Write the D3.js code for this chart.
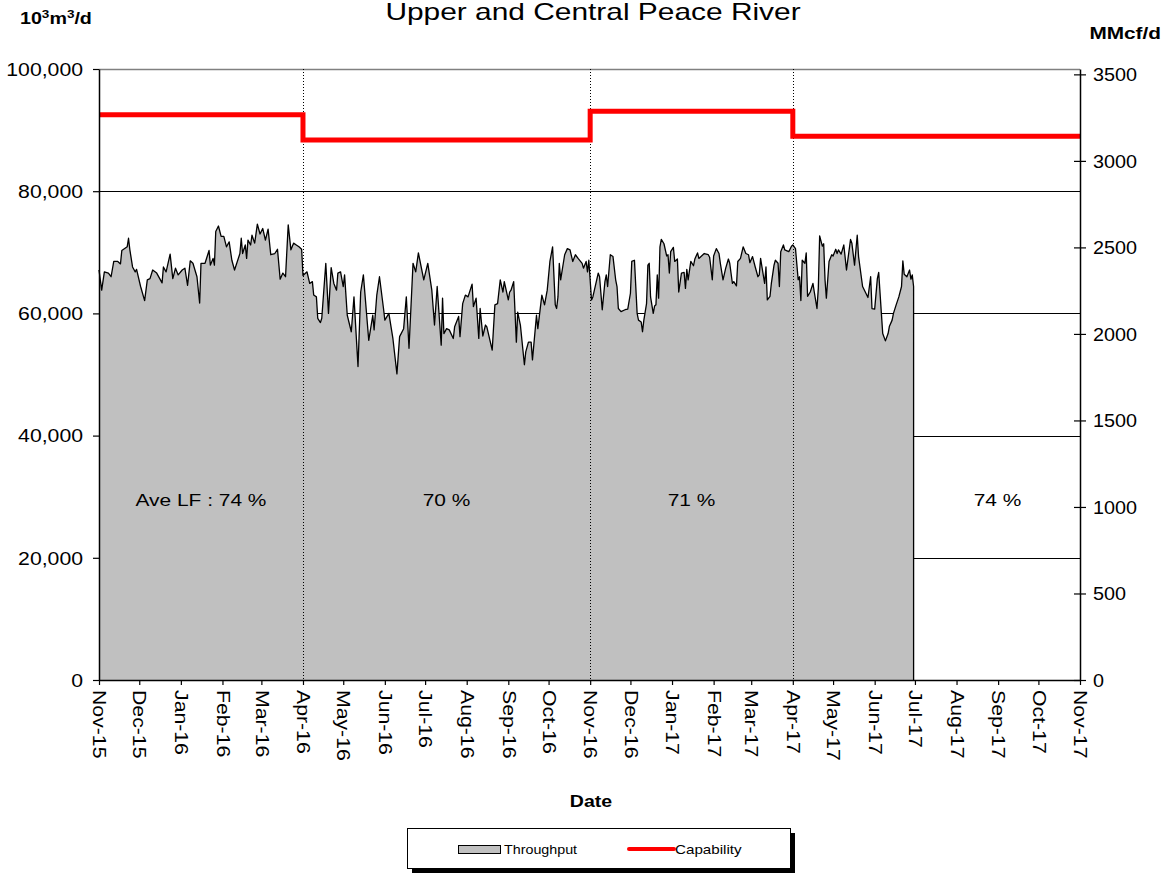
<!DOCTYPE html>
<html>
<head>
<meta charset="utf-8">
<script src="https://cdn.jsdelivr.net/npm/d3@7/dist/d3.min.js"></script>
<style>
  html, body { margin: 0; padding: 0; background: #fff; }
  svg { display: block; font-family: "Liberation Sans", Arial, sans-serif; }
</style>
</head>
<body>
<svg id="chart" width="1168" height="873"></svg>
<script>
// ---------------- DATA ----------------
const title = "Upper and Central Peace River";
const startDate = "2015-11-01";
const endDate = "2017-11-01";
// Daily throughput (10^3 m3/d) : [days since 2015-11-01, value]
const throughput = [
  [0,67100],[2,63800],[4,66800],[7,66600],[9,66000],[11,68500],[14,68500],[16,68100],[17,70300],
  [21,70900],[22,72300],[23,70400],[25,67600],[27,66800],[28,67200],[31,64400],[34,62100],[36,65500],
  [38,65700],[40,67100],[43,66600],[47,65000],[48,67600],[50,66800],[53,69700],[55,65700],[57,67400],
  [59,66300],[62,67100],[64,67400],[66,64600],[68,68600],[70,68200],[73,66000],[75,61700],[76,68200],
  [79,68200],[82,70300],[83,67900],[85,69000],[86,67900],[87,73400],[89,74300],[91,72600],[93,72600],
  [95,70900],[97,71700],[99,68700],[101,67100],[105,69800],[106,72300],[107,69800],[109,71200],[110,69000],
  [111,72000],[113,71200],[114,72800],[116,71500],[118,74600],[120,73000],[122,73900],[124,72000],[126,73800],
  [128,69600],[131,69800],[133,70500],[135,65600],[137,66600],[139,66000],[141,74500],[143,70400],[145,71500],
  [147,71200],[149,70900],[151,70500],[152,66200],[155,66800],[157,64900],[159,65200],[160,63000],[162,62700],
  [163,59200],[165,58500],[166,59200],[169,68200],[171,60000],[173,67500],[175,64900],[177,63800],[178,66600],
  [180,66800],[182,64400],[183,66300],[185,59700],[188,57000],[190,62700],[193,51300],[195,63500],[197,66300],
  [201,55600],[204,59700],[205,57300],[207,63000],[209,66000],[212,60800],[213,58900],[216,60000],[219,55900],
  [222,50100],[224,56200],[227,57500],[229,62700],[231,54300],[234,68200],[236,66800],[238,69900],[242,65500],
  [245,68200],[248,63800],[250,58100],[252,64400],[255,54800],[256,62500],[257,56700],[259,57500],[261,57300],
  [264,55900],[265,57800],[268,59500],[269,56200],[271,61600],[273,63000],[275,62700],[278,64800],[279,61100],
  [281,62500],[283,55900],[284,60800],[286,56300],[288,58100],[289,57800],[293,54000],[295,61400],[297,61600],
  [299,65500],[301,63500],[302,65200],[305,62200],[306,63500],[307,63800],[309,65200],[311,55300],[312,60200],
  [314,58100],[317,51600],[318,53700],[320,55300],[322,55300],[323,52400],[326,59700],[327,57500],[330,63000],
  [332,61400],[334,63800],[336,68500],[338,70900],[340,61400],[341,60800],[342,62700],[343,68200],[344,65500],
  [347,69600],[349,70600],[351,70400],[353,68500],[355,69600],[357,69000],[360,68200],[361,67400],[363,68500],
  [364,66800],[365,68700],[367,62200],[368,62700],[372,66600],[373,66000],[375,60600],[377,65200],[378,66300],
  [379,64400],[381,69600],[383,69300],[385,65500],[386,64400],[387,60800],[389,60300],[392,60600],[394,60700],
  [396,63300],[397,68500],[399,68700],[401,60000],[402,58900],[404,58600],[405,57000],[406,58900],[408,61600],
  [409,67900],[410,68200],[411,62700],[413,60000],[414,61200],[415,61400],[416,66300],[417,62500],[418,70900],
  [419,72100],[421,71400],[423,69400],[424,69600],[425,66600],[426,70100],[428,70800],[429,68500],[431,68900],
  [432,63500],[434,66600],[436,66700],[437,64100],[438,67200],[439,65500],[441,68500],[443,67800],[444,68900],
  [446,69900],[447,69000],[449,69400],[451,69800],[454,69600],[455,69200],[457,65500],[458,69400],[460,70600],
  [462,69800],[463,68200],[465,65500],[467,67400],[469,68900],[470,68200],[472,64900],[473,65200],[475,64500],
  [476,68500],[478,69000],[480,70900],[482,69800],[484,69600],[485,68300],[487,69300],[489,67600],[491,66000],
  [492,66300],[493,69000],[494,67600],[496,64900],[497,67600],[498,62200],[500,62800],[501,64900],[503,67900],
  [504,68700],[506,68200],[507,64400],[508,70100],[510,71200],[511,70400],[514,70100],[516,71000],[517,71200],
  [519,70600],[521,65500],[522,66000],[523,62100],[524,68700],[526,68200],[527,69900],[528,62800],[530,63500],
  [532,64900],[533,63500],[535,60800],[536,64100],[537,72700],[539,71000],[540,71400],[541,65500],[542,62500],
  [544,68500],[546,69600],[547,69400],[549,70500],[550,69800],[551,70400],[553,69700],[555,71200],[557,67100],
  [560,72100],[561,71500],[563,67900],[565,72800],[566,69300],[569,64400],[571,63500],[573,62600],[575,66000],
  [576,60800],[578,60700],[580,65700],[581,66700],[583,60000],[584,56700],[586,55500],[588,56700],[589,57900],
  [591,58900],[592,60000],[594,61400],[596,62700],[598,64400],[599,68600],[600,66400],[602,66000],[604,67100],
  [605,65600],[606,66300],[607,64400]
];
// Capability periods (10^3 m3/d)
const capabilityStarts = ["2015-11-01","2016-04-01","2016-11-01","2017-04-01"];
const capabilityEnds   = ["2016-04-01","2016-11-01","2017-04-01","2017-11-01"];
const capabilityValues = [92500, 88400, 93100, 89000];
// Average load factor labels per period
const lfLabels = ["Ave LF : 74 %", "70 %", "71 %", "74 %"];
const lfStarts = ["2015-11-01","2016-04-01","2016-11-01","2017-07-01"];
const lfEnds   = ["2016-04-01","2016-11-01","2017-04-01","2017-11-01"];
const leftTicks = [0, 20000, 40000, 60000, 80000, 100000];
const rightTicks = [0, 500, 1000, 1500, 2000, 2500, 3000, 3500];
const dividerDates = ["2016-04-01","2016-11-01","2017-04-01"];
const M3_PER_CF = 35.31; // 10^3 m3/d -> MMcf/d factor

// ---------------- CHART ----------------
const parse = d3.timeParse("%Y-%m-%d");
const t0 = parse(startDate);
const svg = d3.select("#chart");
const L = 99, R = 1080, T = 69, B = 680;

// horizontally stretch text around its anchor (reference typeface is wide)
function stretch(sel, sx) {
  sel.each(function() {
    const el = d3.select(this);
    const px = +el.attr("x") || 0, py = +el.attr("y") || 0;
    const prev = el.attr("transform") || "";
    el.attr("transform", `${prev} translate(${px},${py}) scale(${sx},1) translate(${-px},${-py})`);
  });
}

const x = d3.scaleTime().domain([t0, parse(endDate)]).range([L, R]);
const y = d3.scaleLinear().domain([0, 100000]).range([B, T]);
const y2 = d3.scaleLinear().domain([0, 100000 * M3_PER_CF / 1000]).range([B, T]);

const pts = throughput.map(d => ({date: d3.timeDay.offset(t0, d[0]), v: d[1]}));

// gridlines (behind area)
svg.append("g").selectAll("line").data(leftTicks.filter(v => v > 0)).join("line")
  .attr("x1", L).attr("x2", R)
  .attr("y1", d => Math.round(y(d)) + 0.5).attr("y2", d => Math.round(y(d)) + 0.5)
  .attr("stroke", d => d === 100000 ? "#808080" : "#000")
  .attr("stroke-width", d => d === 100000 ? 1.5 : 1);

// area
svg.append("path").datum(pts)
  .attr("d", d3.area().x(d => x(d.date)).y0(y(0)).y1(d => y(d.v)))
  .attr("fill", "#c0c0c0");
const last = pts[pts.length - 1];
svg.append("path")
  .attr("d", d3.line().x(d => x(d.date)).y(d => y(d.v))(pts) + `L${x(last.date)},${y(0)}`)
  .attr("fill", "none").attr("stroke", "#000").attr("stroke-width", 1.3)
  .attr("stroke-linejoin", "round");

// dotted dividers
svg.append("g").selectAll("line").data(dividerDates).join("line")
  .attr("x1", d => Math.round(x(parse(d))) + 0.5).attr("x2", d => Math.round(x(parse(d))) + 0.5)
  .attr("y1", T).attr("y2", B)
  .attr("stroke", "#000").attr("stroke-width", 1).attr("stroke-dasharray", "1,2");

// capability step line
const capPts = [];
capabilityValues.forEach((v, i) => {
  capPts.push([x(parse(capabilityStarts[i])), y(v)]);
  capPts.push([x(parse(capabilityEnds[i])), y(v)]);
});
svg.append("path").attr("d", d3.line()(capPts))
  .attr("fill", "none").attr("stroke", "#ff0000").attr("stroke-width", 5)
  .attr("stroke-linejoin", "miter");

// LF labels
const lf = svg.append("g").selectAll("text").data(lfLabels).join("text")
  .attr("x", (d, i) => (x(parse(lfStarts[i])) + x(parse(lfEnds[i]))) / 2)
  .attr("y", y(30000) + 9)
  .attr("text-anchor", "middle").attr("font-size", 17).text(d => d);
stretch(lf, 1.23);

// axes
const axL = svg.append("g").attr("transform", `translate(${L},0)`)
  .call(d3.axisLeft(y).tickValues(leftTicks).tickFormat(d3.format(",")).tickSize(6).tickSizeOuter(0));
const axR = svg.append("g").attr("transform", `translate(${R},0)`)
  .call(d3.axisRight(y2).tickValues(rightTicks).tickFormat(d3.format("d")).tickSize(6).tickSizeOuter(0));
axR.selectAll(".tick line").attr("x1", -6);
const axB = svg.append("g").attr("transform", `translate(0,${B})`)
  .call(d3.axisBottom(x).ticks(d3.timeMonth.every(1)).tickFormat(d3.timeFormat("%b-%y")).tickSize(5).tickSizeOuter(0));
[axL, axR, axB].forEach(a => {
  a.selectAll(".domain").attr("stroke", "#000").attr("stroke-width", 1.5);
  a.selectAll(".tick line").attr("stroke", "#000").attr("stroke-width", 1.2);
  a.selectAll("text").attr("fill", "#000").attr("font-family", "'Liberation Sans', Arial, sans-serif").attr("font-size", 18);
});
axL.selectAll("text").attr("x", -16).attr("y", 0).attr("dy", "0.35em");
stretch(axL.selectAll("text"), 1.18);
axR.selectAll("text").attr("x", 13).attr("y", 0).attr("dy", "0.35em");
stretch(axR.selectAll("text"), 1.1);
axB.selectAll("text")
  .attr("transform", "rotate(90) scale(1.18,1)")
  .attr("text-anchor", "start")
  .attr("x", 8.5).attr("y", 0).attr("dy", "0.35em");

// titles
const ttl = svg.append("text").attr("x", 593).attr("y", 20).attr("text-anchor", "middle")
  .attr("font-size", 23).text(title);
stretch(ttl, 1.3);
const unitL = svg.append("text").attr("x", 20).attr("y", 24).attr("font-size", 16).attr("font-weight", "bold");
unitL.append("tspan").text("10");
unitL.append("tspan").attr("font-size", 11).attr("dy", -6).text("3");
unitL.append("tspan").attr("dy", 6).text("m");
unitL.append("tspan").attr("font-size", 11).attr("dy", -6).text("3");
unitL.append("tspan").attr("dy", 6).text("/d");
stretch(unitL, 1.23);
const unitR = svg.append("text").attr("x", 1161).attr("y", 39).attr("text-anchor", "end")
  .attr("font-size", 16).attr("font-weight", "bold").text("MMcf/d");
stretch(unitR, 1.3);
const dateLbl = svg.append("text").attr("x", 591).attr("y", 807).attr("text-anchor", "middle")
  .attr("font-size", 16).attr("font-weight", "bold").text("Date");
stretch(dateLbl, 1.22);

// legend
const lg = svg.append("g");
lg.append("rect").attr("x", 412).attr("y", 833).attr("width", 383).attr("height", 40).attr("fill", "#000");
lg.append("rect").attr("x", 407.5).attr("y", 828.5).attr("width", 383).attr("height", 40)
  .attr("fill", "#fff").attr("stroke", "#000").attr("stroke-width", 1);
lg.append("rect").attr("x", 458.5).attr("y", 845.5).attr("width", 42).attr("height", 8)
  .attr("fill", "#c0c0c0").attr("stroke", "#000").attr("stroke-width", 1);
const lt1 = lg.append("text").attr("x", 504).attr("y", 854).attr("font-size", 13).text("Throughput");
stretch(lt1, 1.1);
lg.append("line").attr("x1", 629).attr("x2", 674).attr("y1", 849).attr("y2", 849)
  .attr("stroke", "#ff0000").attr("stroke-width", 4).attr("stroke-linecap", "round");
const lt2 = lg.append("text").attr("x", 675).attr("y", 854).attr("font-size", 13).text("Capability");
stretch(lt2, 1.17);
</script>
</body>
</html>
